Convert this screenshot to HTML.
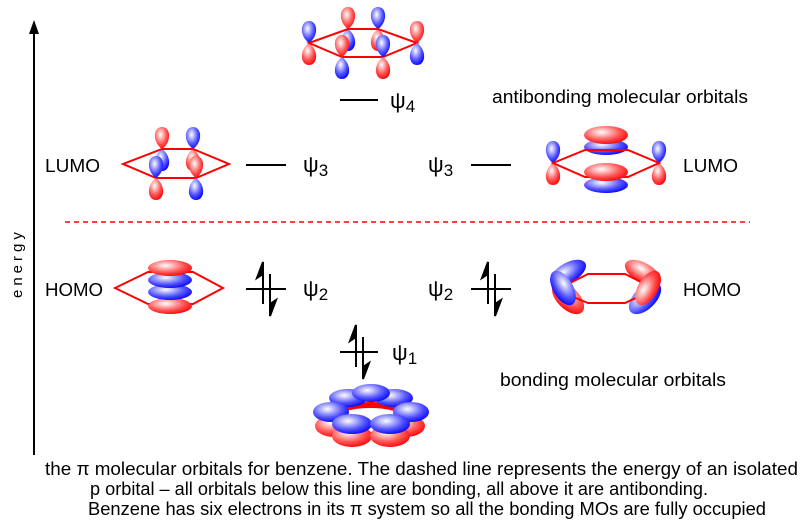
<!DOCTYPE html>
<html><head><meta charset="utf-8"><style>
html,body{margin:0;padding:0;background:#fff;}
svg{display:block;font-family:"Liberation Sans",sans-serif;}
</style></head><body>
<svg width="800" height="528" viewBox="0 0 800 528" xmlns="http://www.w3.org/2000/svg">
<defs>
<radialGradient id="r" cx="0.4" cy="0.35" r="0.7"><stop offset="0" stop-color="#fff"/><stop offset="0.6" stop-color="#f55"/><stop offset="1" stop-color="#f00"/></radialGradient>
<radialGradient id="b" cx="0.4" cy="0.35" r="0.7"><stop offset="0" stop-color="#fff"/><stop offset="0.6" stop-color="#55f"/><stop offset="1" stop-color="#00f"/></radialGradient>
<path id="u" d="M0,0 C-10,-7 -9,-22 0,-22 C9,-22 10,-7 0,0Z"/>
<path id="d" d="M0,0 C-10,7 -9,22 0,22 C9,22 10,7 0,0Z"/>
</defs>
<line x1="34" y1="455" x2="34" y2="30" stroke="#000" stroke-width="2"/>
<path d="M29,34 L34,20 L39,34Z" fill="#000"/>
<text x="0" y="0" font-size="15" letter-spacing="4" transform="translate(22,298) rotate(-90)">energy</text>
<line x1="65" y1="222" x2="750" y2="222" stroke="#f00" stroke-width="1.6" stroke-dasharray="5,4"/>

<g>
<use href="#u" x="309" y="43" fill="url(#b)"/><use href="#d" x="309" y="43" fill="url(#r)"/>
<use href="#u" x="348" y="29" fill="url(#r)"/><use href="#d" x="348" y="29" fill="url(#b)"/>
<use href="#u" x="378" y="29" fill="url(#b)"/><use href="#d" x="378" y="29" fill="url(#r)"/>
<polygon points="309,43 348,29 378,29 417,43 383,57 342,57" fill="none" stroke="#f00" stroke-width="2"/>
<use href="#u" x="417" y="43" fill="url(#r)"/><use href="#d" x="417" y="43" fill="url(#b)"/>
<use href="#u" x="342" y="57" fill="url(#r)"/><use href="#d" x="342" y="57" fill="url(#b)"/>
<use href="#u" x="383" y="57" fill="url(#b)"/><use href="#d" x="383" y="57" fill="url(#r)"/>
</g>
<line x1="340" y1="100" x2="378" y2="100" stroke="#000" stroke-width="2"/>
<text x="390" y="108" font-size="22">ψ<tspan font-size="17" dy="4">4</tspan></text>
<text x="492" y="103" font-size="16" textLength="256" lengthAdjust="spacingAndGlyphs" style="font-size:18.5px">antibonding molecular orbitals</text>

<text x="45" y="172" font-size="18.5" textLength="55" lengthAdjust="spacingAndGlyphs">LUMO</text>
<use href="#u" x="162" y="149" fill="url(#r)"/><use href="#d" x="162" y="149" fill="url(#b)"/>
<use href="#u" x="193" y="149" fill="url(#b)"/><use href="#d" x="193" y="149" fill="url(#r)"/>
<polygon points="123,164 162,149 193,149 229,164 196,178 156,178" fill="none" stroke="#f00" stroke-width="2"/>
<use href="#u" x="156" y="178" fill="url(#b)"/><use href="#d" x="156" y="178" fill="url(#r)"/>
<use href="#u" x="196" y="178" fill="url(#r)"/><use href="#d" x="196" y="178" fill="url(#b)"/>
<line x1="246" y1="165" x2="286" y2="165" stroke="#000" stroke-width="2"/>
<text x="303" y="172" font-size="22">ψ<tspan font-size="17" dy="4">3</tspan></text>

<text x="428" y="172" font-size="22">ψ<tspan font-size="17" dy="4">3</tspan></text>
<line x1="471" y1="165" x2="511" y2="165" stroke="#000" stroke-width="2"/>
<use href="#u" x="553" y="163" fill="url(#b)"/><use href="#d" x="553" y="163" fill="url(#r)"/>
<use href="#u" x="659" y="163" fill="url(#b)"/><use href="#d" x="659" y="163" fill="url(#r)"/>
<ellipse cx="606" cy="147" rx="22" ry="8" fill="url(#b)"/>
<ellipse cx="606" cy="135" rx="22" ry="9" fill="url(#r)"/>
<ellipse cx="606" cy="185" rx="22" ry="8" fill="url(#b)"/>
<polygon points="553,163 585,150 628,150 659,163 628,177 585,177" fill="none" stroke="#f00" stroke-width="2"/>
<ellipse cx="606" cy="172" rx="22" ry="9" fill="url(#r)"/>
<text x="683" y="172" font-size="18.5" textLength="55" lengthAdjust="spacingAndGlyphs">LUMO</text>

<text x="45" y="296" font-size="18.5" textLength="58" lengthAdjust="spacingAndGlyphs">HOMO</text>
<polygon points="115,288 148,272 193,272 223,288 193,304 148,304" fill="none" stroke="#f00" stroke-width="2"/>
<ellipse cx="170" cy="306" rx="22" ry="8" fill="url(#r)"/>
<ellipse cx="170" cy="292" rx="22" ry="8" fill="url(#b)"/>
<ellipse cx="170" cy="280" rx="22" ry="8" fill="url(#b)"/>
<ellipse cx="170" cy="268" rx="22" ry="8" fill="url(#r)"/>
<line x1="246" y1="289" x2="286" y2="289" stroke="#000" stroke-width="2"/>
<g stroke="#000" stroke-width="2" fill="#000">
<line x1="263" y1="264" x2="263" y2="304"/><path d="M263,262 L257,278 L263,274Z"/>
<line x1="270" y1="274" x2="270" y2="314"/><path d="M270,316 L276,300 L270,304Z"/>
</g>
<text x="303" y="296" font-size="22">ψ<tspan font-size="17" dy="4">2</tspan></text>

<text x="428" y="296" font-size="22">ψ<tspan font-size="17" dy="4">2</tspan></text>
<line x1="471" y1="289" x2="511" y2="289" stroke="#000" stroke-width="2"/>
<g stroke="#000" stroke-width="2" fill="#000">
<line x1="488" y1="264" x2="488" y2="304"/><path d="M488,262 L482,278 L488,274Z"/>
<line x1="495" y1="274" x2="495" y2="314"/><path d="M495,316 L501,300 L495,304Z"/>
</g>
<ellipse cx="568" cy="298" rx="20" ry="11" transform="rotate(45 568 298)" fill="url(#r)"/>
<ellipse cx="568" cy="273" rx="20" ry="10" transform="rotate(-30 568 273)" fill="url(#b)"/>
<ellipse cx="645" cy="298" rx="20" ry="11" transform="rotate(-45 645 298)" fill="url(#b)"/>
<ellipse cx="643" cy="273" rx="20" ry="10" transform="rotate(30 643 273)" fill="url(#r)"/>
<polyline points="556,290 588,274 625,274 655,289 625,303 588,303 556,290" fill="none" stroke="#f00" stroke-width="2"/>
<ellipse cx="563" cy="288" rx="19" ry="10" transform="rotate(60 563 288)" fill="url(#b)"/>
<ellipse cx="648" cy="288" rx="19" ry="10" transform="rotate(-60 648 288)" fill="url(#r)"/>
<text x="683" y="296" font-size="18.5" textLength="58" lengthAdjust="spacingAndGlyphs">HOMO</text>

<line x1="340" y1="352" x2="378" y2="352" stroke="#000" stroke-width="2"/>
<g stroke="#000" stroke-width="2" fill="#000">
<line x1="356" y1="327" x2="356" y2="367"/><path d="M356,325 L350,341 L356,337Z"/>
<line x1="363" y1="337" x2="363" y2="377"/><path d="M363,379 L369,363 L363,367Z"/>
</g>
<text x="392" y="360" font-size="22">ψ<tspan font-size="17" dy="4">1</tspan></text>
<text x="500" y="386" font-size="18.5" textLength="226" lengthAdjust="spacingAndGlyphs">bonding molecular orbitals</text>

<g>
<ellipse cx="370" cy="420" rx="40" ry="15" fill="none" stroke="#f00" stroke-width="6"/>
<ellipse cx="334" cy="426" rx="19" ry="11" fill="url(#r)"/>
<ellipse cx="406" cy="426" rx="19" ry="11" fill="url(#r)"/>
<ellipse cx="352" cy="436" rx="20" ry="11" fill="url(#r)"/>
<ellipse cx="390" cy="436" rx="20" ry="11" fill="url(#r)"/>
<ellipse cx="348" cy="398" rx="19" ry="9" fill="url(#b)"/>
<ellipse cx="394" cy="398" rx="19" ry="9" fill="url(#b)"/>
<ellipse cx="371" cy="393" rx="19" ry="9" fill="url(#b)"/>
<ellipse cx="331" cy="412" rx="18" ry="10" fill="url(#b)"/>
<ellipse cx="411" cy="412" rx="18" ry="10" fill="url(#b)"/>
<ellipse cx="352" cy="424" rx="20" ry="10" fill="url(#b)"/>
<ellipse cx="390" cy="424" rx="20" ry="10" fill="url(#b)"/>
</g>

<g font-size="18">
<text x="45" y="475" textLength="753" lengthAdjust="spacingAndGlyphs">the π molecular orbitals for benzene.  The dashed line represents the energy of an isolated</text>
<text x="90" y="495" textLength="618" lengthAdjust="spacingAndGlyphs">p orbital – all orbitals below this line are bonding, all above it are antibonding.</text>
<text x="88" y="515" textLength="678" lengthAdjust="spacingAndGlyphs">Benzene has six electrons in its π system so all the bonding MOs are fully occupied</text>
</g>
</svg>
</body></html>
